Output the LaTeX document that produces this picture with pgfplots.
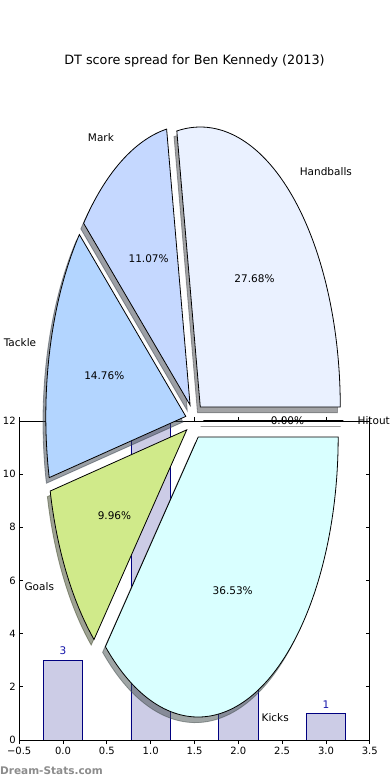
\documentclass[border=0pt]{standalone}
\usepackage{fontspec}
\setmainfont{DejaVu Sans}
\usepackage{pgfplots}
\pgfplotsset{compat=1.18}

\definecolor{barfill}{RGB}{204,204,230}
\definecolor{baredge}{RGB}{0,0,128}
\definecolor{barlab}{RGB}{20,20,170}
\definecolor{cHit}{RGB}{255,255,255}
\definecolor{cHand}{RGB}{234,241,255}
\definecolor{cMark}{RGB}{197,216,255}
\definecolor{cTack}{RGB}{179,213,255}
\definecolor{cGoal}{RGB}{208,234,138}
\definecolor{cKick}{RGB}{217,255,255}
\definecolor{wm}{RGB}{140,140,140}

\newcommand\tickfont{\fontsize{10bp}{12bp}\selectfont}
\newcommand\labfont{\fontsize{10.5bp}{12.5bp}\selectfont}
\newcommand\titlefont{\fontsize{12.8bp}{15bp}\selectfont}

% pie data: percent / label / colour (counter-clockwise from 0 degrees)
\def\piedata{0.00/Hitout/cHit, 27.68/Handballs/cHand, 11.07/Mark/cMark, 14.76/Tackle/cTack, 9.96/Goals/cGoal, 36.53/Kicks/cKick}
\def\ex{0.064}

\begin{document}
\begin{tikzpicture}
\path[use as bounding box, fill=white] (0bp,0bp) rectangle (390bp,780bp);

% ---------------- bar chart ----------------
\begin{axis}[
  at={(19.2bp,40bp)}, anchor=south west,
  scale only axis, width=350.6bp, height=319bp,
  xmin=-0.5, xmax=3.5, ymin=0, ymax=12,
  xtick={-0.5,0,0.5,1,1.5,2,2.5,3,3.5},
  xticklabels={−0.5,0.0,0.5,1.0,1.5,2.0,2.5,3.0,3.5},
  ytick={0,2,4,6,8,10,12},
  tick align=inside, major tick length=4bp,
  ticklabel style={font=\tickfont},
  /pgf/number format/assume math mode=true,
  axis line style={line width=0.9bp},
  every tick/.style={black, line width=0.8bp},
  ybar, bar width=0.45,
]
\addplot[fill=barfill, draw=baredge, line width=0.8bp,
  nodes near coords,
  every node near coord/.append style={font=\labfont, color=barlab, inner sep=0pt, yshift=5bp}]
  coordinates {(0,3) (1,12) (2,4) (3,1)};
\end{axis}

% ---------------- pie chart (own axis, unequal aspect) ----------------
\begin{axis}[
  at={(54.5bp,79.3bp)}, anchor=south west,
  scale only axis, width=280bp, height=560bp,
  xmin=-1, xmax=1, ymin=-1, ymax=1,
  hide axis, clip=false,
]
\pgfplotsextra{
  % shadows
  \gdef\cum{0}
  \foreach \p/\name/\col in \piedata {
    \pgfmathsetmacro\aone{\cum*3.6}
    \pgfmathsetmacro\atwo{(\cum+\p)*3.6}
    \pgfmathsetmacro\amid{(\aone+\atwo)/2}
    \pgfmathsetmacro\cx{\ex*cos(\amid)-0.02}
    \pgfmathsetmacro\cy{\ex*sin(\amid)-0.02}
    \pgfmathsetmacro\sx{\cx+cos(\aone)}
    \pgfmathsetmacro\sy{\cy+sin(\aone)}
    \path[fill=\col!30!black, draw=\col!30!black, opacity=0.5, line width=0.8bp]
      (axis cs:\cx,\cy) -- (axis cs:\sx,\sy)
      arc[start angle=\aone, end angle=\atwo, x radius=140bp, y radius=280bp] -- cycle;
    \pgfmathsetmacro\newcum{\cum+\p}
    \global\let\cum\newcum
  }
  % wedges and labels
  \gdef\cum{0}
  \foreach \p/\name/\col in \piedata {
    \pgfmathsetmacro\aone{\cum*3.6}
    \pgfmathsetmacro\atwo{(\cum+\p)*3.6}
    \pgfmathsetmacro\amid{(\aone+\atwo)/2}
    \pgfmathsetmacro\cx{\ex*cos(\amid)}
    \pgfmathsetmacro\cy{\ex*sin(\amid)}
    \pgfmathsetmacro\sx{\cx+cos(\aone)}
    \pgfmathsetmacro\sy{\cy+sin(\aone)}
    \path[fill=\col, draw=black, line width=0.8bp]
      (axis cs:\cx,\cy) -- (axis cs:\sx,\sy)
      arc[start angle=\aone, end angle=\atwo, x radius=140bp, y radius=280bp] -- cycle;
    \pgfmathsetmacro\lx{\cx+1.1*cos(\amid)}
    \pgfmathsetmacro\ly{\cy+1.1*sin(\amid)}
    \pgfmathsetmacro\px{\cx+0.6*cos(\amid)}
    \pgfmathsetmacro\py{\cy+0.6*sin(\amid)}
    \ifdim\lx pt>0pt \def\anc{west}\else\def\anc{east}\fi
    \node[anchor=\anc, inner sep=0pt, font=\labfont] at (axis cs:\lx,\ly) {\name};
    \node[anchor=center, inner sep=0pt, font=\labfont] at (axis cs:\px,\py) {\p\%};
    \pgfmathsetmacro\newcum{\cum+\p}
    \global\let\cum\newcum
  }
}
\node[font=\titlefont, anchor=center] at (axis cs:0,1.2846) {DT score spread for Ben Kennedy (2013)};
\end{axis}

\node[anchor=west, inner sep=0pt, font=\fontsize{10.5bp}{12bp}\selectfont\bfseries, text=wm] at (0bp,9.5bp) {Dream-Stats.com};
\end{tikzpicture}
\end{document}
